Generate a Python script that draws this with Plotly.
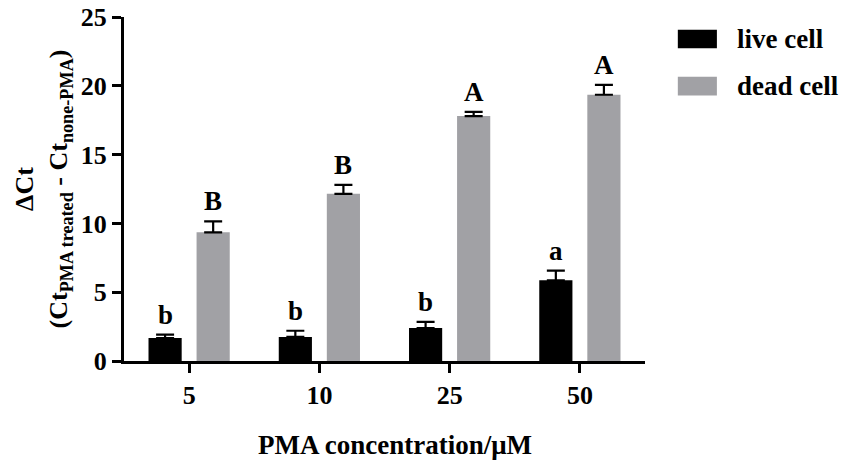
import plotly.graph_objects as go

categories = ["5", "10", "25", "50"]
live_values = [1.67, 1.75, 2.4, 5.87]
live_err = [0.25, 0.45, 0.45, 0.7]
dead_values = [9.35, 12.15, 17.8, 19.35]
dead_err = [0.8, 0.65, 0.3, 0.72]
live_letters = ["b", "b", "b", "a"]
dead_letters = ["B", "B", "A", "A"]
series_names = ["live cell", "dead cell"]
y_ticks = [0, 5, 10, 15, 20, 25]

LIVE_COLOR = "#000000"
DEAD_COLOR = "#a1a1a5"
FONT = "Liberation Serif"
BARGAP = 0.262
BARGROUPGAP = 0.31

fig = go.Figure()
for name, vals, errs, color in [
    (series_names[0], live_values, live_err, LIVE_COLOR),
    (series_names[1], dead_values, dead_err, DEAD_COLOR),
]:
    fig.add_trace(go.Bar(
        x=categories, y=vals, name=name,
        marker=dict(color=color, line=dict(width=0)),
        error_y=dict(type="data", symmetric=False, array=errs,
                     arrayminus=[0] * len(errs), color="#000000",
                     thickness=2.2, width=9),
        showlegend=False,
    ))

off = (1 - BARGAP) / 4
annotations = []
for i, cat in enumerate(categories):
    for letters, vals, errs, sign in [
        (live_letters, live_values, live_err, -1),
        (dead_letters, dead_values, dead_err, 1),
    ]:
        annotations.append(dict(
            x=i + sign * off, y=vals[i] + errs[i], xref="x", yref="y",
            text=letters[i], showarrow=False, yanchor="bottom",
            yshift=3, font=dict(family=FONT, size=27, color="#000", weight="bold"),
        ))

# custom legend
legend_rows = [(series_names[0], LIVE_COLOR, 0.936), (series_names[1], DEAD_COLOR, 0.799)]
shapes = []
for name, color, yc in legend_rows:
    shapes.append(dict(type="rect", xref="paper", yref="paper",
                       x0=1.063, x1=1.138, y0=yc - 0.027, y1=yc + 0.027,
                       fillcolor=color, line=dict(width=0)))
    annotations.append(dict(x=1.172, y=yc, xref="paper", yref="paper",
                            text=name, showarrow=False, xanchor="left", yanchor="middle",
                            font=dict(family=FONT, size=27, color="#000", weight="bold")))

# x-axis title as annotation (slightly right of plot centre, as in the reference)
annotations.append(dict(x=0.52, y=-0.195, xref="paper", yref="paper",
                        text="PMA concentration/μM", showarrow=False,
                        xanchor="center", yanchor="top",
                        font=dict(family=FONT, size=27, color="#000", weight="bold")))

fig.update_layout(
    width=851, height=466,
    margin=dict(l=124, r=206, t=17, b=105),
    plot_bgcolor="white", paper_bgcolor="white",
    barmode="group", bargap=BARGAP, bargroupgap=BARGROUPGAP,
    font=dict(family=FONT, color="#000", size=26, weight="bold"),
    annotations=annotations, shapes=shapes,
    xaxis=dict(
        showline=True, linecolor="#000", linewidth=3, automargin=False,
        ticks="outside", ticklen=9, tickwidth=3, tickcolor="#000",
        tickfont=dict(family=FONT, size=26, weight="bold"),
        range=[-0.5, 3.5], showgrid=False,
    ),
    yaxis=dict(
        showline=True, linecolor="#000", linewidth=3, automargin=False,
        ticks="outside", ticklen=9, tickwidth=3, tickcolor="#000",
        tickvals=y_ticks, range=[0, 25], showgrid=False, zeroline=False,
        tickfont=dict(family=FONT, size=26, weight="bold"),
        title=dict(text="ΔCt<br>(Ct<sub>PMA treated</sub> - Ct<sub>none-PMA</sub>)",
                   standoff=6, font=dict(family=FONT, size=26, weight="bold")),
    ),
)

fig.write_html("out.html", config={"displayModeBar": False},
               post_script="document.body.style.margin='0';document.body.style.overflow='hidden';")
